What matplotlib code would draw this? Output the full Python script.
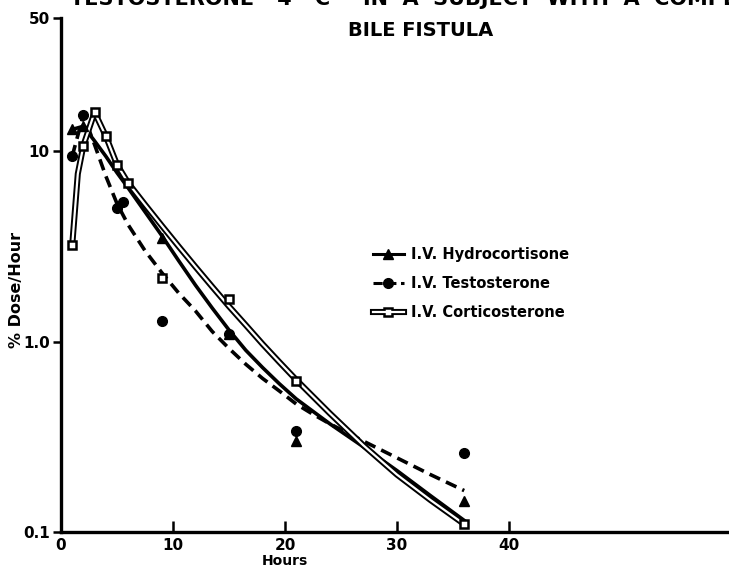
import numpy as np
import matplotlib
matplotlib.use("Agg")
import matplotlib.pyplot as plt
from matplotlib.lines import Line2D
from matplotlib.legend_handler import HandlerLine2D

# measured points
hydro_x = [1, 2, 9, 15, 21, 36]
hydro_y = [13.0, 13.5, 3.5, 1.1, 0.30, 0.145]
testo_x = [1, 2, 5, 5.5, 9, 15, 21, 36]
testo_y = [9.4, 15.5, 5.0, 5.4, 1.28, 1.1, 0.34, 0.26]
cortico_x = [1, 2, 3, 4, 5, 6, 9, 15, 21, 36]
cortico_y = [3.2, 10.7, 16.0, 12.0, 8.5, 6.8, 2.15, 1.67, 0.62, 0.11]

# fitted curves
hydro_fit_x = [1, 2, 3, 4, 5, 6, 7.5, 9, 10.5, 12, 13.5, 15, 16.5, 18, 19.5,
               21, 22.5, 24, 27, 30, 33, 36]
hydro_fit_y = [13.0, 13.5, 11.3, 9.4, 7.7, 6.4, 4.8, 3.6, 2.66, 1.98, 1.5, 1.15,
               0.9, 0.73, 0.6, 0.5, 0.43, 0.37, 0.28, 0.21, 0.155, 0.115]
testo_fit_x = [1, 2, 3, 4, 5, 6, 7.5, 9, 10.5, 12, 13.5, 15, 16.5, 18, 19.5,
               21, 22.5, 24, 27, 30, 33, 36]
testo_fit_y = [9.4, 15.5, 10.8, 7.4, 5.3, 4.1, 3.0, 2.3, 1.8, 1.45, 1.13, 0.92,
               0.76, 0.64, 0.55, 0.47, 0.415, 0.37, 0.30, 0.245, 0.20, 0.165]
cortico_fit_x = [1, 1.5, 2, 3, 4, 5, 6, 7.5, 9, 10.5, 12, 13.5, 15, 16.5, 18,
                 19.5, 21, 24, 27, 30, 33, 36]
cortico_fit_y = [3.2, 7.6, 10.7, 16.0, 12.0, 8.5, 6.8, 5.24, 4.06, 3.16, 2.47,
                 1.94, 1.53, 1.22, 0.97, 0.78, 0.63, 0.42, 0.285, 0.20, 0.147,
                 0.11]

x_ticks = [0, 10, 20, 30, 40]
y_ticks = [0.1, 1.0, 10, 50]
y_tick_labels = ["0.1", "1.0", "10", "50"]
labels = ["I.V. Hydrocortisone", "I.V. Testosterone", "I.V. Corticosterone"]

plt.rcParams["font.family"] = "DejaVu Sans"
plt.rcParams["font.weight"] = "bold"

fig = plt.figure(figsize=(7.29, 5.72), dpi=100)
ax = fig.add_axes([61 / 729, 40 / 572, 1 - 61 / 729, 514 / 572])
xmax = (729 - 61) / 11.2

# curves
ax.plot(hydro_fit_x, hydro_fit_y, color="black", lw=2.6)
ax.plot(testo_fit_x, testo_fit_y, color="black", lw=2.6, ls=(0, (3.2, 1.8)))
ax.plot(cortico_fit_x, cortico_fit_y, color="black", lw=4.4)
ax.plot(cortico_fit_x, cortico_fit_y, color="white", lw=1.6)

# points
ax.plot(hydro_x, hydro_y, ls="none", marker="^", ms=7, color="black")
ax.plot(testo_x, testo_y, ls="none", marker="o", ms=7, color="black")
ax.plot(cortico_x, cortico_y, ls="none", marker="s", ms=6, mfc="white",
        mec="black", mew=1.8)

ax.set_yscale("log")
ax.set_ylim(0.1, 50)
ax.set_xlim(0, xmax)
ax.set_xticks(x_ticks)
ax.set_xticklabels([str(t) for t in x_ticks], fontsize=11, fontweight="bold")
ax.set_yticks(y_ticks)
ax.set_yticklabels(y_tick_labels, fontsize=11, fontweight="bold")
ax.yaxis.set_minor_locator(matplotlib.ticker.NullLocator())
ax.tick_params(axis="x", direction="in", length=8, width=1.8, pad=4)
ax.tick_params(axis="y", direction="out", length=6, width=1.8, pad=2)
for s in ["top", "right"]:
    ax.spines[s].set_visible(False)
for s in ["left", "bottom"]:
    ax.spines[s].set_linewidth(2.4)

ax.set_xlabel("Hours", fontsize=10, fontweight="bold")
ax.xaxis.set_label_coords(20 / xmax, -0.042)
ax.set_ylabel("% Dose/Hour", fontsize=11.5, fontweight="bold")
ax.yaxis.set_label_coords(-0.055, 0.47)


class EndMarker(HandlerLine2D):
    def get_xdata(self, legend, xdescent, ydescent, width, height, fontsize):
        xdata = np.array([-xdescent, -xdescent + width])
        return xdata, np.array([-xdescent + width])


h1 = Line2D([], [], color="black", lw=2.2, marker="^", ms=7)
h2 = Line2D([], [], color="black", lw=2.2, ls=(0, (3, 1.5)), marker="o", ms=7)
h3a = Line2D([], [], color="black", lw=4.4, marker="s", ms=6, mfc="white",
             mec="black", mew=1.8)
h3b = Line2D([], [], color="white", lw=1.6)
fig.legend([h1, h2, (h3a, h3b)], labels, loc="upper left",
           bbox_to_anchor=(360 / 729, 1 - 234 / 572), frameon=False,
           handler_map={Line2D: EndMarker()}, handlelength=2.1,
           handletextpad=0.5, labelspacing=0.95,
           prop={"size": 10.5, "weight": "bold"})

fig.text(421 / 729, 1 - 30 / 572, "BILE FISTULA", fontsize=14,
         fontweight="bold", ha="center", va="center")
fig.text(70 / 729, 1 + 1 / 572,
         "TESTOSTERONE - 4 - C\u00b9\u2074  IN  A  SUBJECT  WITH  A  COMPLETE",
         fontsize=15, ha="left", va="center")

fig.savefig("out.png", dpi=100)
